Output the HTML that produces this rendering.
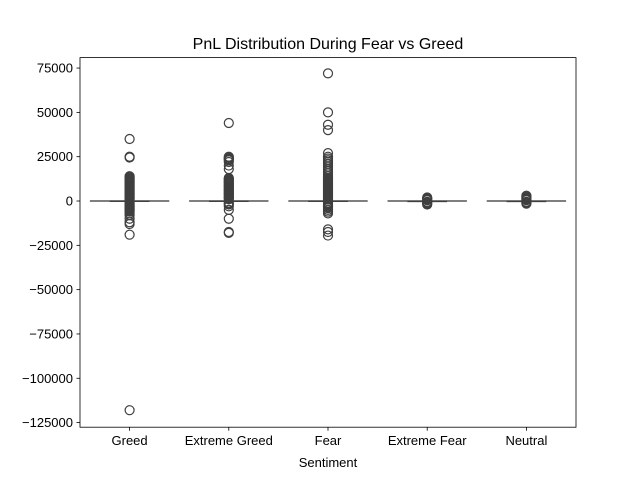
<!DOCTYPE html>
<html><head><meta charset="utf-8"><style>
body{margin:0;background:#fff;}
svg text{font-family:"Liberation Sans","DejaVu Sans",sans-serif;fill:#000;}
</style></head><body>
<svg id="chart" width="640" height="480" viewBox="0 0 640 480">
<rect x="0" y="0" width="640" height="480" fill="#fff"/>
<text x="328" y="49" font-size="16" text-anchor="middle">PnL Distribution During Fear vs Greed</text>
<g id="marks"></g>
<rect x="80" y="57.6" width="496" height="369.6" fill="none" stroke="#000" stroke-width="0.8"/>
<g id="axes"></g>
<text x="328" y="467" font-size="13" text-anchor="middle">Sentiment</text>
</svg>
<script>
const categories = ["Greed","Extreme Greed","Fear","Extreme Fear","Neutral"];
const medians = [0,0,0,0,0];
const q1 = [-300,-300,-300,-200,-200];
const q3 = [300,300,300,200,200];
const yTicks = [75000,50000,25000,0,-25000,-50000,-75000,-100000,-125000];
const outGreed = [35000,25000,24500,14000,13500,13000,12500,12000,11500,11000,10500,10000,9500,9000,8500,8000,7500,7000,6500,6000,5500,5000,4500,4000,3500,3000,2500,2000,1500,1000,-1000,-1500,-2000,-2500,-3000,-3500,-4000,-4500,-5000,-5500,-6000,-7000,-8000,-10000,-12000,-13000,-19000,-118000];
const outExtremeGreed = [44000,25000,24500,24000,23500,23000,22000,20000,18000,13000,12500,12000,11500,11000,10500,10000,9500,9000,8500,8000,7500,7000,6500,6000,5500,5000,4500,4000,3500,3000,2500,2000,1500,1000,-1000,-1500,-2000,-3000,-5000,-10000,-17500,-18000];
const outFear = [72000,50000,43000,40000,27000,25000,24000,23000,22000,21000,20000,19000,18000,17000,16000,15000,14000,13000,12500,12000,11500,11000,10500,10000,9500,9000,8500,8000,7500,7000,6500,6000,5500,5000,4500,4000,3500,3000,2500,2000,1500,1000,-1000,-1500,-2000,-2500,-3000,-3500,-4000,-5000,-6000,-7000,-16000,-17500,-19500];
const outExtremeFear = [2000,1500,1000,500,-500,-1000,-1500,-2000];
const outNeutral = [3000,2500,2000,1500,1000,500,-500,-1000,-1500];
const outliers = [outGreed,outExtremeGreed,outFear,outExtremeFear,outNeutral];

const NS="http://www.w3.org/2000/svg";
const L=80,R=576,T=57.6,B=427.2, yMin=-127600, yMax=80900;
const y=v=>B-(v-yMin)/(yMax-yMin)*(B-T);
const step=(R-L)/categories.length;
const x=i=>L+step*(i+0.5);
function mk(tag,attrs,parent){const e=document.createElementNS(NS,tag);for(const k in attrs)e.setAttribute(k,attrs[k]);parent.appendChild(e);return e;}
const marks=document.getElementById('marks'), axes=document.getElementById('axes');
categories.forEach((c,i)=>{
  const cx=x(i), w=step*0.8;
  const g=mk('g',{},marks);
  
  
  const wl=mk('line',{x1:cx-w/2,x2:cx+w/2,y1:y(medians[i]),y2:y(medians[i]),stroke:'#555','stroke-width':1.5},g);
  
  
  const bx=mk('rect',{x:cx-w/4,y:y(q3[i]),width:w/2,height:Math.max(1.5,y(q1[i])-y(q3[i])),fill:'#3f3f3f'},g);
  
  
  outliers[i].forEach(v=>{
    const p=mk('circle',{cx:cx,cy:y(v),r:4.5,fill:'none',stroke:'#3f3f3f','stroke-width':1.2},g);
    
    
  });
  mk('line',{x1:cx,x2:cx,y1:B,y2:B+3.5,stroke:'#000','stroke-width':0.8},axes);
  const t=mk('text',{x:cx,y:B+18,'font-size':13,'text-anchor':'middle'},axes);
  t.textContent=c;
  
  
});
yTicks.forEach(v=>{
  const yy=y(v);
  mk('line',{x1:L-3.5,x2:L,y1:yy,y2:yy,stroke:'#000','stroke-width':0.8},axes);
  const t=mk('text',{x:L-7,y:yy+4.5,'font-size':13,'text-anchor':'end'},axes);
  t.textContent=String(v).replace('-','−');
  
  
});
</script>
</body></html>
